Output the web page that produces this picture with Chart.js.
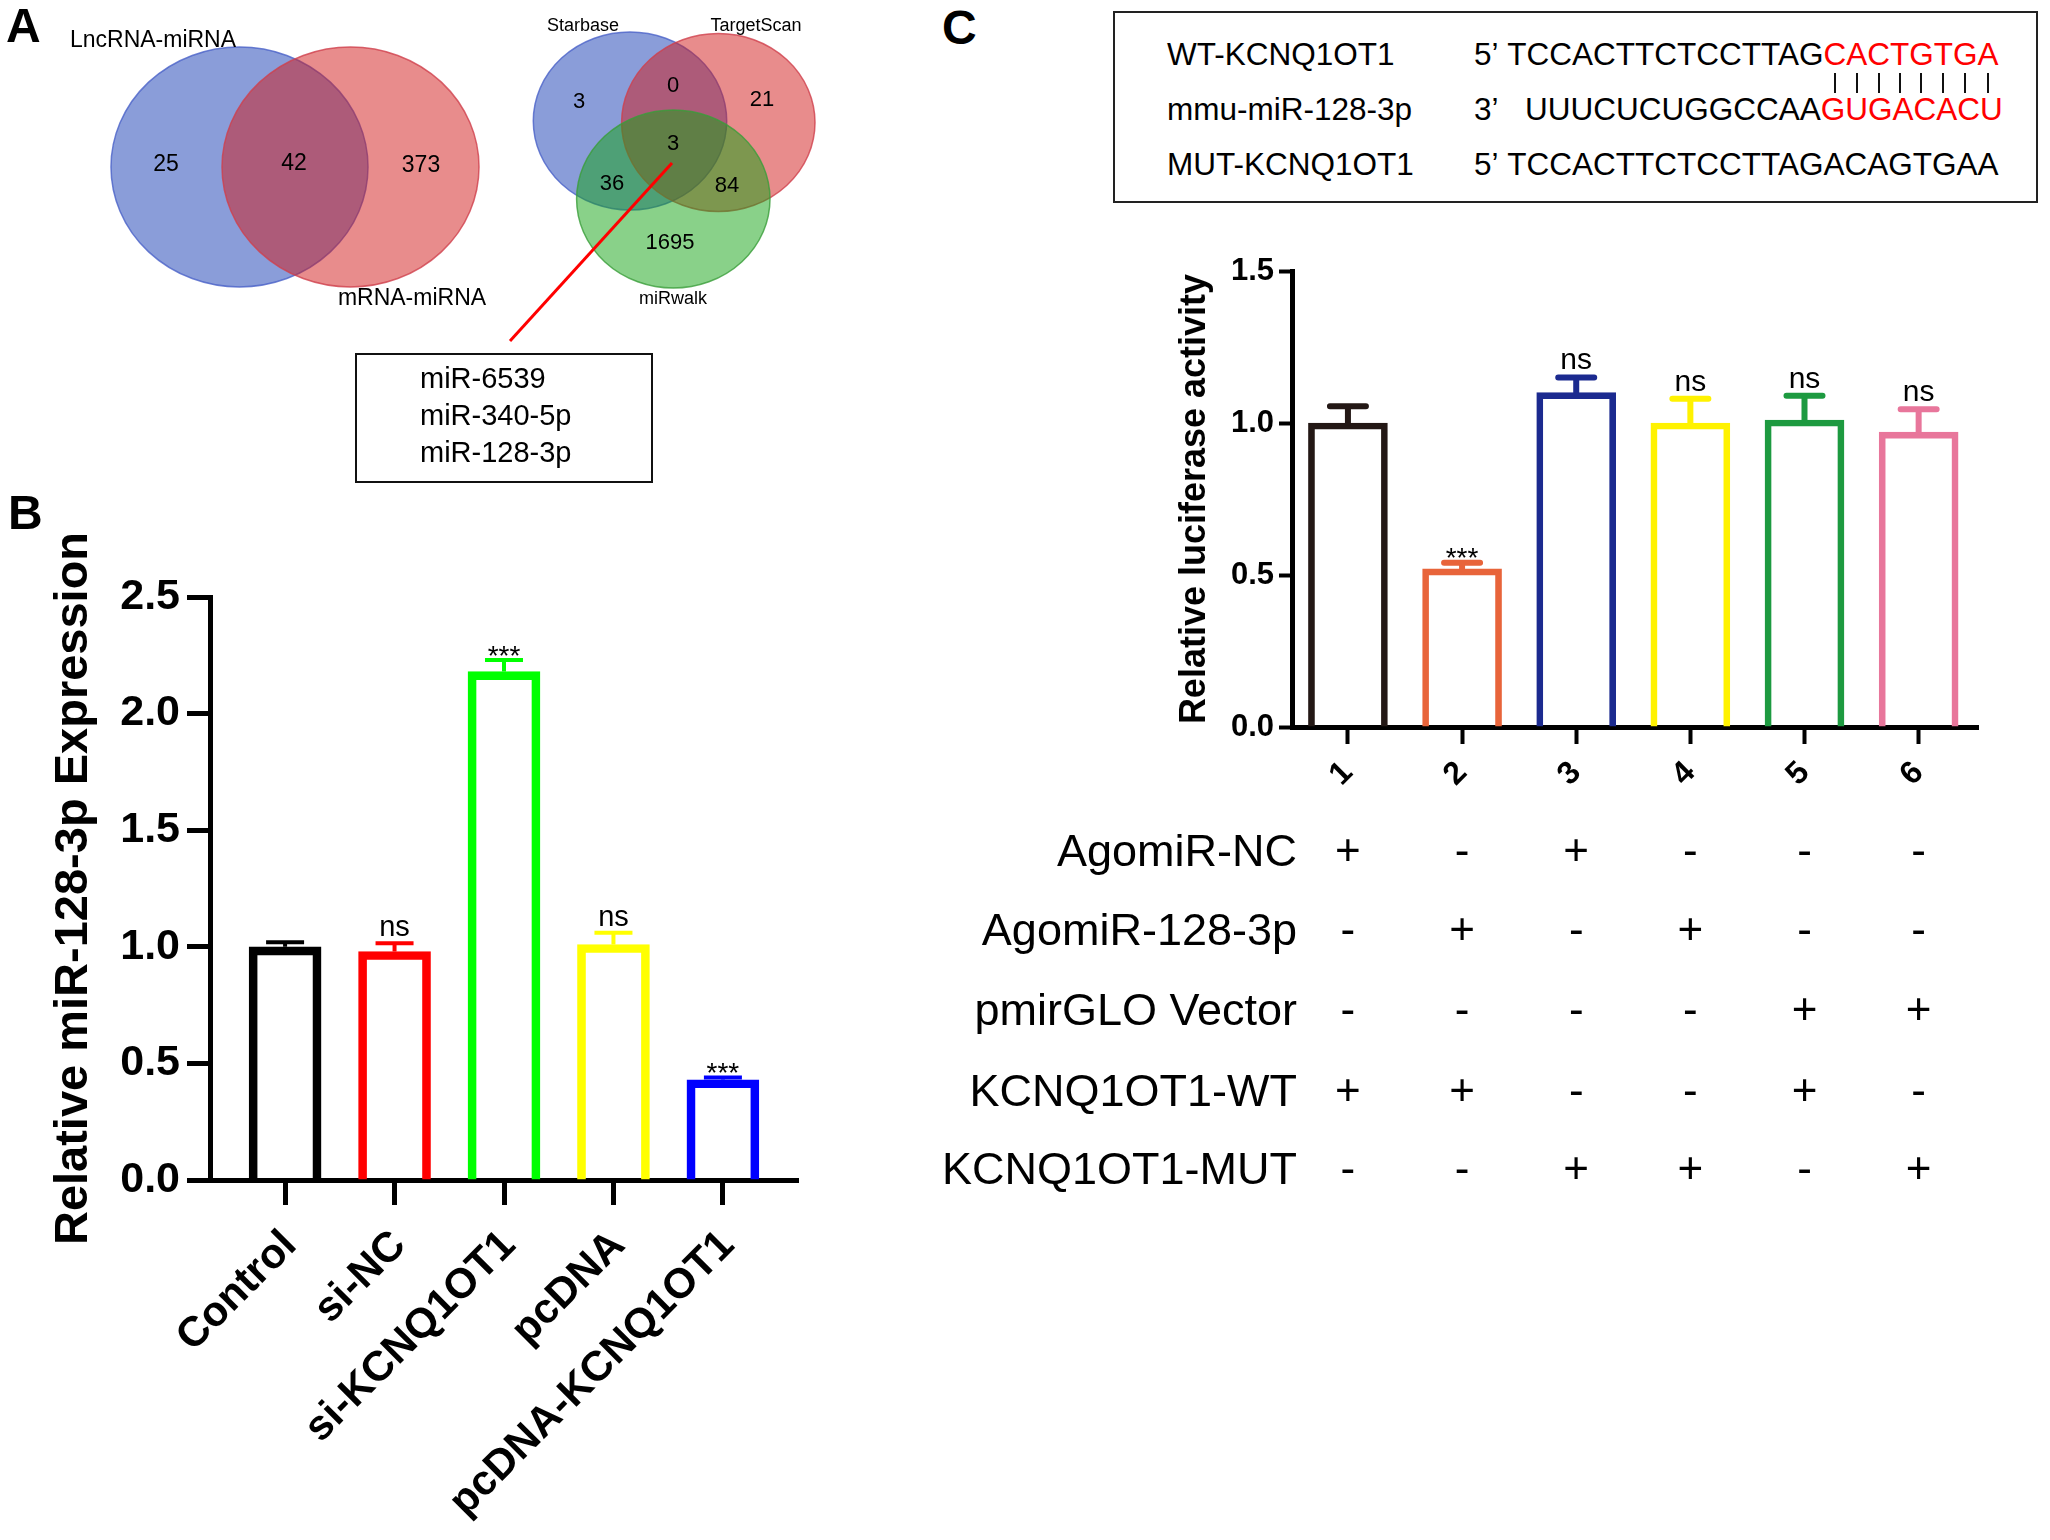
<!DOCTYPE html>
<html>
<head>
<meta charset="utf-8">
<script src="https://cdn.jsdelivr.net/npm/chart.js@4.4.1/dist/chart.umd.min.js"></script>
<style>
    html, body { margin: 0; padding: 0; background: #fff; }
    body { width: 2050px; height: 1540px; position: relative; overflow: hidden; font-family: 'Liberation Sans', Arial, sans-serif; color: #000; }
    canvas { position: absolute; }
    .abs { position: absolute; white-space: nowrap; line-height: 1; }
    .red { color: #ff0000; }
    .pair { position: absolute; width: 2px; height: 20px; background: #111; }
</style>
</head>
<body>
<canvas id="vennPair" style="left:20px;top:17px"></canvas>
<canvas id="vennTriple" style="left:474px;top:0px"></canvas>
<svg style="position:absolute;left:0;top:0" width="900" height="400">
    <line x1="672" y1="163" x2="510" y2="341" stroke="#ff0000" stroke-width="3"/>
</svg>
<div class="abs" style="left:355px;top:353px;width:294px;height:126px;border:2px solid #111"></div>
<div class="abs" style="left:1113px;top:11px;width:921px;height:188px;border:2px solid #222"></div>
<canvas id="chartB" style="left:0px;top:480px"></canvas>
<canvas id="chartC" style="left:900px;top:220px"></canvas>

<script>
// ---- data ----
const vennPairSets = ['LncRNA-miRNA', 'mRNA-miRNA'];
const vennPairCounts = [25, 42, 373];            // Lnc only, shared, mRNA only
const vennTripleSets = ['Starbase', 'TargetScan', 'miRwalk'];
const vennTripleCounts = [3, 0, 21, 3, 36, 84, 1695]; // S, S∩T, T, all, S∩M, T∩M, M
const sharedMiRNAs = ['miR-6539', 'miR-340-5p', 'miR-128-3p'];

const groupsB = ['Control', 'si-NC', 'si-KCNQ1OT1', 'pcDNA', 'pcDNA-KCNQ1OT1'];
const meansB = [1.00, 0.98, 2.18, 1.01, 0.43];
const errorsB = [0.02, 0.035, 0.05, 0.05, 0.01];
const marksB = ['', 'ns', '***', 'ns', '***'];
const ticksB = [0, 0.5, 1.0, 1.5, 2.0, 2.5];

const groupsC = ['1', '2', '3', '4', '5', '6'];
const meansC = [1.00, 0.52, 1.10, 1.00, 1.01, 0.97];
const errorsC = [0.055, 0.02, 0.05, 0.08, 0.08, 0.075];
const marksC = ['', '***', 'ns', 'ns', 'ns', 'ns'];
const ticksC = [0, 0.5, 1.0, 1.5];

const treatments = ['AgomiR-NC', 'AgomiR-128-3p', 'pmirGLO Vector', 'KCNQ1OT1-WT', 'KCNQ1OT1-MUT'];
const treatmentSigns = [
    ['+', '-', '+', '-', '-', '-'],
    ['-', '+', '-', '+', '-', '-'],
    ['-', '-', '-', '-', '+', '+'],
    ['+', '+', '-', '-', '+', '-'],
    ['-', '-', '+', '+', '-', '+']
];

const seqRows = [
    { name: 'WT-KCNQ1OT1', prime: '5’', black: 'TCCACTTCTCCTTAG', red: 'CACTGTGA' },
    { name: 'mmu-miR-128-3p', prime: '3’', black: 'UUUCUCUGGCCAA', red: 'GUGACACU' },
    { name: 'MUT-KCNQ1OT1', prime: '5’', black: 'TCCACTTCTCCTTAGACAGTGAA', red: '' }
];

// ---- layout / style ----
const FONT = "'Liberation Sans', Arial, sans-serif";
const colorsB = ['#000000', '#ff0000', '#00ff00', '#ffff00', '#0000ff'];
const colorsC = ['#231815', '#e8643a', '#1b2a8f', '#fff200', '#1d9a40', '#e8769b'];

const vennPairLayout = {
    ellipses: [
        { cx: -0.555, cy: 0, rx: 1.285, ry: 1.2, fill: 'rgb(21,59,179)', stroke: '#4a62c8' },
        { cx: 0.555, cy: 0, rx: 1.285, ry: 1.2, fill: 'rgb(209,25,25)', stroke: '#d0404c' }
    ],
    setLabels: [[-1.42, 1.26], [1.17, -1.315]],
    countPos: [[-1.29, 0.02], [-0.01, 0.03], [1.26, 0.01]],
    labelSize: 23, countSize: 23
};
const vennTripleLayout = {
    ellipses: [
        { cx: -0.44, cy: 0.39, rx: 0.967, ry: 0.89, fill: 'rgb(21,59,179)', stroke: '#4a62c8' },
        { cx: 0.443, cy: 0.375, rx: 0.967, ry: 0.89, fill: 'rgb(209,25,25)', stroke: '#d0404c' },
        { cx: -0.007, cy: -0.39, rx: 0.967, ry: 0.89, fill: 'rgb(19,163,19)', stroke: '#3a9e3a' }
    ],
    setLabels: [[-0.91, 1.34], [0.82, 1.34], [-0.01, -1.39]],
    countPos: [[-0.95, 0.58], [-0.01, 0.74], [0.88, 0.60], [-0.01, 0.16], [-0.62, -0.24], [0.53, -0.26], [-0.04, -0.83]],
    labelSize: 18, countSize: 22
};

const addText = (text, x, y, opts = {}) => {
    const el = document.createElement('div');
    el.className = 'abs';
    el.textContent = text;
    el.style.left = x + 'px';
    el.style.top = y + 'px';
    el.style.fontSize = (opts.size || 30) + 'px';
    if (opts.bold) el.style.fontWeight = 'bold';
    const tx = opts.align === 'right' ? '-100%' : opts.align === 'center' ? '-50%' : '0';
    el.style.transform = `translate(${tx}, -50%)`;
    document.body.appendChild(el);
    return el;
};

// panel letters
addText('A', 6, 26, { size: 48, bold: true });
addText('B', 8, 513, { size: 48, bold: true });
addText('C', 942, 28, { size: 48, bold: true });

// shared miRNA box
sharedMiRNAs.forEach((m, i) => addText(m, 420, 378 + i * 37, { size: 29 }));

// sequence box
const measure = document.createElement('canvas').getContext('2d');
const seqSize = 31.5;
measure.font = `${seqSize}px ${FONT}`;
const seqY = [55, 110, 165];
seqRows.forEach((row, i) => {
    addText(row.name, 1167, seqY[i], { size: seqSize });
    addText(row.prime, 1474, seqY[i], { size: seqSize });
    const seqX = i === 1 ? 1525 : 1474 + measure.measureText(row.prime + ' ').width;
    const el = addText('', seqX, seqY[i], { size: seqSize });
    el.innerHTML = row.black + (row.red ? `<span class="red">${row.red}</span>` : '');
    if (i === 0) {
        // pairing marks under each seed letter
        let px = seqX + measure.measureText(row.black).width;
        [...row.red].forEach(ch => {
            const w = measure.measureText(ch).width;
            const bar = document.createElement('div');
            bar.className = 'pair';
            bar.style.left = (px + w / 2 - 1) + 'px';
            bar.style.top = '73px';
            document.body.appendChild(bar);
            px += w;
        });
    }
});

// ---- plugins ----
const vennPlugin = {
    id: 'venn',
    afterDatasetsDraw(chart, args, opts) {
        const { ctx, scales: { x, y } } = chart;
        const L = opts.layout;
        ctx.save();
        L.ellipses.forEach(e => {
            const cx = x.getPixelForValue(e.cx);
            const cy = y.getPixelForValue(e.cy);
            const rx = x.getPixelForValue(e.cx + e.rx) - cx;
            const ry = cy - y.getPixelForValue(e.cy + e.ry);
            ctx.beginPath();
            ctx.ellipse(cx, cy, rx, ry, 0, 0, Math.PI * 2);
            ctx.globalAlpha = 0.5;
            ctx.fillStyle = e.fill;
            ctx.fill();
            ctx.globalAlpha = 0.8;
            ctx.lineWidth = 1.5;
            ctx.strokeStyle = e.stroke;
            ctx.stroke();
        });
        ctx.globalAlpha = 1;
        ctx.fillStyle = '#000';
        ctx.textAlign = 'center';
        ctx.textBaseline = 'middle';
        ctx.font = `${L.labelSize}px ${FONT}`;
        opts.sets.forEach((s, i) => {
            ctx.fillText(s, x.getPixelForValue(L.setLabels[i][0]), y.getPixelForValue(L.setLabels[i][1]));
        });
        ctx.font = `${L.countSize}px ${FONT}`;
        opts.counts.forEach((c, i) => {
            ctx.fillText(String(c), x.getPixelForValue(L.countPos[i][0]), y.getPixelForValue(L.countPos[i][1]));
        });
        ctx.restore();
    }
};

const errorBarPlugin = {
    id: 'errorBars',
    afterDatasetsDraw(chart, args, opts) {
        const { ctx, scales: { y } } = chart;
        const meta = chart.getDatasetMeta(0);
        ctx.save();
        opts.errors.forEach((err, i) => {
            const bar = meta.data[i];
            const base = y.getPixelForValue(opts.means[i]);
            const top = y.getPixelForValue(opts.means[i] + err);
            ctx.strokeStyle = opts.colors[i];
            ctx.lineWidth = opts.lineWidth;
            ctx.lineCap = opts.lineCap;
            ctx.beginPath();
            ctx.moveTo(bar.x, base);
            ctx.lineTo(bar.x, top);
            ctx.moveTo(bar.x - opts.capWidth / 2, top);
            ctx.lineTo(bar.x + opts.capWidth / 2, top);
            ctx.stroke();
            const mark = opts.marks[i];
            if (mark) {
                const star = mark.startsWith('*');
                const size = star ? opts.starSize : opts.nsSize;
                ctx.fillStyle = '#000';
                ctx.font = `${size}px ${FONT}`;
                ctx.textAlign = 'center';
                ctx.textBaseline = 'alphabetic';
                ctx.fillText(mark, bar.x, top - opts.markGap + (star ? size * 0.42 : 0));
            }
        });
        ctx.restore();
    }
};

// ---- venn charts ----
const vennChart = (id, w, h, xr, yr, sets, counts, layout) => {
    const cv = document.getElementById(id);
    cv.width = w; cv.height = h;
    cv.style.width = w + 'px'; cv.style.height = h + 'px';
    return new Chart(cv, {
        type: 'scatter',
        data: {
            datasets: layout.ellipses.map((e, i) => ({ label: sets[i], data: [{ x: e.cx, y: e.cy }], pointRadius: 0 }))
        },
        options: {
            responsive: false, animation: false, devicePixelRatio: 1,
            layout: { padding: 0 },
            plugins: { legend: { display: false }, tooltip: { enabled: false }, venn: { layout, sets, counts } },
            scales: {
                x: { type: 'linear', display: false, min: -xr, max: xr },
                y: { type: 'linear', display: false, min: -yr, max: yr }
            }
        },
        plugins: [vennPlugin]
    });
};
vennChart('vennPair', 550, 300, 2.75, 1.5, vennPairSets, vennPairCounts, vennPairLayout);
vennChart('vennTriple', 400, 320, 2.0, 1.6, vennTripleSets, vennTripleCounts, vennTripleLayout);

// ---- bar charts ----
const barChart = (id, cfg) => {
    const cv = document.getElementById(id);
    cv.width = cfg.w; cv.height = cfg.h;
    cv.style.width = cfg.w + 'px'; cv.style.height = cfg.h + 'px';
    return new Chart(cv, {
        type: 'bar',
        data: {
            datasets: [{
                data: cfg.means.map((v, i) => ({ x: i, y: v })),
                backgroundColor: 'rgba(255,255,255,0)',
                borderColor: cfg.colors,
                borderWidth: cfg.barBorder,
                borderSkipped: 'start',
                barThickness: cfg.barWidth
            }]
        },
        options: {
            responsive: false, animation: false, devicePixelRatio: 1,
            layout: { padding: cfg.padding },
            plugins: {
                legend: { display: false },
                tooltip: { enabled: false },
                errorBars: {
                    means: cfg.means, errors: cfg.errors, marks: cfg.marks, colors: cfg.colors,
                    lineWidth: cfg.errWidth, lineCap: cfg.errCap, capWidth: cfg.capWidth,
                    markGap: cfg.markGap, nsSize: cfg.nsSize, starSize: cfg.starSize
                }
            },
            scales: {
                x: {
                    type: 'linear', min: cfg.xMin, max: cfg.xMax, offset: false,
                    afterBuildTicks: s => { s.ticks = cfg.groups.map((_, i) => ({ value: i })); },
                    afterFit: s => { s.height = cfg.xHeight; },
                    ticks: {
                        callback: v => cfg.groups[v], autoSkip: false,
                        minRotation: 45, maxRotation: 45, color: '#000',
                        font: cfg.xFont, padding: cfg.xPad, labelOffset: cfg.xShift
                    },
                    grid: { offset: false, drawOnChartArea: false, tickLength: cfg.xTickLen, tickWidth: cfg.axisTick, tickColor: '#000', color: '#000' },
                    border: { color: '#000', width: cfg.axisWidth }
                },
                y: {
                    min: 0, max: cfg.yTicks[cfg.yTicks.length - 1],
                    afterBuildTicks: s => { s.ticks = cfg.yTicks.map(v => ({ value: v })); },
                    afterFit: s => { s.width = cfg.yWidth; },
                    ticks: { callback: v => v.toFixed(1), color: '#000', font: cfg.yFont, padding: cfg.yPad },
                    grid: { drawOnChartArea: false, tickLength: cfg.yTickLen, tickWidth: cfg.axisTick, tickColor: '#000', color: '#000' },
                    border: { color: '#000', width: cfg.axisWidth },
                    title: { display: true, text: cfg.yTitle, color: '#000', font: cfg.titleFont, padding: { top: cfg.titlePad, bottom: 0 } }
                }
            }
        },
        plugins: [errorBarPlugin]
    });
};

barChart('chartB', {
    w: 820, h: 1060, padding: { top: 117, right: 22, left: 0, bottom: 0 },
    groups: groupsB, means: meansB, errors: errorsB, marks: marksB, colors: colorsB, yTicks: ticksB,
    barBorder: 8, barWidth: 72, errWidth: 4, errCap: 'butt', capWidth: 38,
    markGap: 7, nsSize: 29, starSize: 28,
    xMin: -0.686, xMax: 4.686, xHeight: 360, yWidth: 210,
    xFont: { family: FONT, size: 42, weight: 'bold' }, xPad: 16, xShift: 5, xTickLen: 25,
    yFont: { family: FONT, size: 43, weight: 'bold' }, yPad: 7, yTickLen: 23,
    axisWidth: 5, axisTick: 5,
    yTitle: 'Relative miR-128-3p Expression', titleFont: { family: FONT, size: 47, weight: 'bold' }, titlePad: 46
});

const chartC = barChart('chartC', {
    w: 1100, h: 1000, padding: { top: 51, right: 22, left: 0, bottom: 0 },
    groups: groupsC, means: meansC, errors: errorsC, marks: marksC, colors: colorsC, yTicks: ticksC,
    barBorder: 6, barWidth: 79, errWidth: 6, errCap: 'round', capWidth: 36,
    markGap: 8, nsSize: 30, starSize: 28,
    xMin: -0.49, xMax: 5.52, xHeight: 493, yWidth: 392,
    xFont: { family: FONT, size: 32, weight: 'bold' }, xPad: 10, xShift: 0, xTickLen: 17,
    yFont: { family: FONT, size: 31, weight: 'bold' }, yPad: 5, yTickLen: 13,
    axisWidth: 5, axisTick: 4,
    yTitle: 'Relative luciferase activity', titleFont: { family: FONT, size: 36, weight: 'bold' }, titlePad: 273
});

// treatment table aligned to chart C columns
const rowY = [850, 929, 1009, 1090, 1168];
const xScaleC = chartC.scales.x;
treatments.forEach((t, r) => {
    addText(t, 1297, rowY[r], { size: 45, align: 'right' });
    treatmentSigns[r].forEach((s, c) => {
        addText(s, 900 + xScaleC.getPixelForValue(c), rowY[r], { size: 44, align: 'center' });
    });
});
</script>
</body>
</html>
